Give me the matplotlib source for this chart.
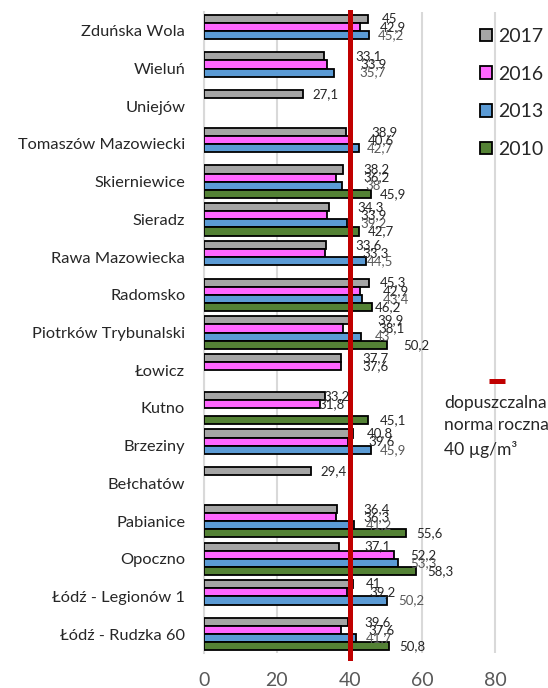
import matplotlib
matplotlib.use('Agg')
import matplotlib.pyplot as plt
from matplotlib.lines import Line2D
from matplotlib.patches import Patch
import numpy as np

plt.rcParams['font.family'] = ['Lato', 'DejaVu Sans']

nan = np.nan
stations = ['Zduńska Wola', 'Wieluń', 'Uniejów', 'Tomaszów Mazowiecki', 'Skierniewice',
            'Sieradz', 'Rawa Mazowiecka', 'Radomsko', 'Piotrków Trybunalski', 'Łowicz',
            'Kutno', 'Brzeziny', 'Bełchatów', 'Pabianice', 'Opoczno',
            'Łódź - Legionów 1', 'Łódź - Rudzka 60']
years = ['2017', '2016', '2013', '2010']

# roczne stężenie NO2 [µg/m3]
no2_2017 = [45, 33.1, 27.1, 38.9, 38.2, 34.3, 33.6, 45.3, 39.9, 37.7, 33.2, 40.8, 29.4, 36.4, 37.1, 41, 39.6]
no2_2016 = [42.9, 33.9, nan, 40.6, 36.2, 33.9, 33.3, 42.9, 38.1, 37.6, 31.8, 39.6, nan, 36.3, 52.2, 39.2, 37.6]
no2_2013 = [45.2, 35.7, nan, 42.7, 38, 39.2, 44.5, 43.4, 43, nan, nan, 45.9, nan, 41.2, 53.3, 50.2, 41.7]
no2_2010 = [nan, nan, nan, nan, 45.9, 42.7, nan, 46.2, 50.2, nan, 45.1, nan, nan, 55.6, 58.3, nan, 50.8]
limit = 40

# where each value label starts (x in data units)
lbl_2017 = [48.9, 41.5, 29.7, 45.9, 43.7, 42.0, 41.5, 48.4, 47.5, 43.4, 32.7, 44.8, 32.1, 43.7, 44.0, 44.5, 44.0]
lbl_2016 = [48.4, 42.9, nan, 45.1, 43.7, 42.9, 43.4, 49.2, 47.8, 43.4, 31.3, 45.1, nan, 43.7, 56.6, 45.3, 45.1]
lbl_2013 = [47.8, 42.6, nan, 44.8, 44.2, 42.9, 44.8, 49.2, 47.0, nan, nan, 48.4, nan, 44.5, 56.6, 53.3, 44.5]
lbl_2010 = [nan, nan, nan, nan, 48.4, 45.1, nan, 47.0, 54.7, nan, 48.4, nan, nan, 58.4, 61.4, nan, 53.6]

series = [no2_2017, no2_2016, no2_2013, no2_2010]
label_x = [lbl_2017, lbl_2016, lbl_2013, lbl_2010]
colors = ['#A5A5A5', '#FF66FF', '#5B9BD5', '#548235']
label_colors = ['#262626', '#262626', '#595959', '#262626']

W, H = 548, 688
fig = plt.figure(figsize=(W / 100, H / 100), dpi=100)
ax = fig.add_axes([204 / W, 1 - 653 / H, 298.5 / W, 641 / H])

y = np.arange(len(stations))
h = 0.215
offsets = [-1.5 * h, -0.5 * h, 0.5 * h, 1.5 * h]

for vals, lx, col, lcol, off in zip(series, label_x, colors, label_colors, offsets):
    vals = np.array(vals, dtype=float)
    lx = np.array(lx, dtype=float)
    ok = ~np.isnan(vals)
    ax.barh(y[ok] + off, vals[ok], height=h, color=col, edgecolor='black',
            linewidth=1.3, zorder=3)
    for yi, v, x in zip(y[ok], vals[ok], lx[ok]):
        txt = f'{v:g}'.replace('.', ',')
        ax.text(x, yi + off, txt, ha='left', va='center', fontsize=9.5,
                color=lcol, zorder=6)

ax.axvline(limit, ymin=-0.008, ymax=1, color='#C00000', lw=3.6,
           clip_on=False, zorder=5)

ax.set_xlim(0, 82)
ax.set_ylim(len(stations) - 0.5, -0.5)
ax.set_xticks([0, 20, 40, 60, 80])
ax.set_yticks(y)
ax.set_yticklabels(stations)
ax.grid(axis='x', color='#D9D9D9', lw=1.5, zorder=0)
ax.set_axisbelow(True)
for s in ['top', 'right', 'bottom']:
    ax.spines[s].set_visible(False)
ax.spines['left'].set_color('#D9D9D9')
ax.spines['left'].set_linewidth(1.5)
ax.tick_params(axis='x', length=0, pad=14, labelsize=14, labelcolor='#595959')
ax.tick_params(axis='y', length=0, pad=13.5, labelsize=11.8, labelcolor='#262626')

handles = [Patch(facecolor=c, edgecolor='black', linewidth=1.3) for c in colors]
leg = ax.legend(handles, years, loc='upper left', bbox_to_anchor=(480 / W, 1 - 28 / H),
                bbox_transform=fig.transFigure, frameon=False, fontsize=14,
                handlelength=0.62, handleheight=0.62, handletextpad=0.3,
                labelspacing=1.06, borderpad=0, borderaxespad=0)
for t in leg.get_texts():
    t.set_color('#262626')

# norma roczna
fig.add_artist(Line2D([489 / W, 505 / W], [1 - 381 / H, 1 - 381 / H],
                      transform=fig.transFigure, color='#C00000', lw=3.6,
                      solid_capstyle='butt'))
fig.text(444 / W, 1 - 395 / H, 'dopuszczalna\nnorma roczna\n40 µg/m³', ha='left',
         va='top', fontsize=12.6, color='#262626', linespacing=1.5)

fig.savefig('out.png', dpi=100)
